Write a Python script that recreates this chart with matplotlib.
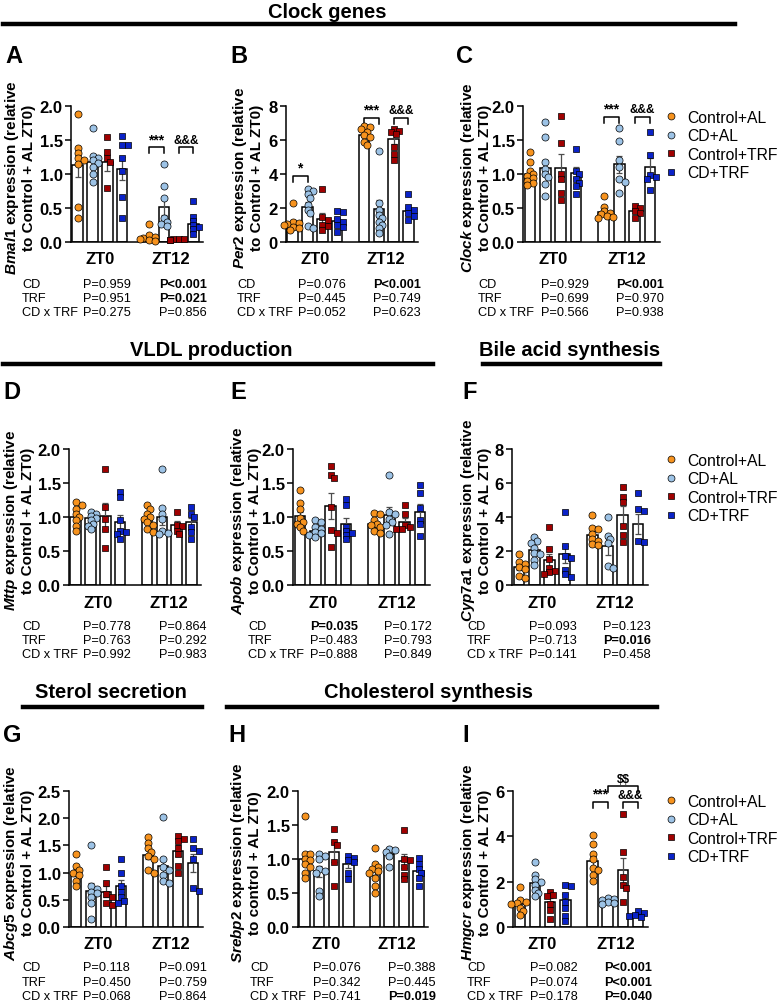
import matplotlib
matplotlib.use('Agg')
import matplotlib.pyplot as plt
from matplotlib.lines import Line2D
from matplotlib import transforms
import numpy as np

plt.rcParams['font.family'] = ['Liberation Sans', 'DejaVu Sans']
plt.rcParams['mathtext.fontset'] = 'custom'
plt.rcParams['mathtext.it'] = 'Liberation Sans:italic:bold'
plt.rcParams['mathtext.rm'] = 'Liberation Sans:bold'
plt.rcParams['mathtext.bf'] = 'Liberation Sans:bold'

GROUPS = ['Control+AL', 'CD+AL', 'Control+TRF', 'CD+TRF']
TESTS = ['CD', 'TRF', 'CD x TRF']

# order in every list: ZT0 (Control+AL, CD+AL, Control+TRF, CD+TRF), then ZT12 (same)
bmal1_pts = [[1.88, 1.38, 1.31, 1.24, 1.21, 1.14, 0.52, 0.35],
             [1.67, 1.27, 1.24, 1.20, 1.16, 1.10, 1.00, 0.88],
             [1.55, 1.33, 1.23, 1.18, 0.80],
             [1.56, 1.43, 1.43, 1.24, 1.04, 0.66, 0.35],
             [0.27, 0.10, 0.08, 0.06, 0.05, 0.03, 0.02],
             [1.15, 0.83, 0.65, 0.35, 0.30, 0.27, 0.24],
             [0.05, 0.04, 0.04, 0.03, 0.03],
             [0.61, 0.37, 0.31, 0.25, 0.22, 0.19, 0.12]]
bmal1_mean = [1.13, 1.18, 1.17, 1.08, 0.08, 0.52, 0.04, 0.27]
bmal1_sem = [0.17, 0.08, 0.12, 0.17, 0.03, 0.13, 0.01, 0.06]
bmal1_p0 = ['P=0.959', 'P=0.951', 'P=0.275']
bmal1_p12 = ['P<0.001', 'P=0.021', 'P=0.856']

per2_pts = [[2.3, 1.2, 1.12, 1.05, 0.98, 0.9, 0.8, 0.7],
            [3.1, 3.0, 2.8, 2.6, 2.2, 1.9, 1.7, 0.95, 0.85],
            [3.1, 1.45, 1.3, 1.0, 0.95, 0.7],
            [1.85, 1.75, 1.35, 1.2, 1.0, 0.9, 0.6],
            [6.85, 6.75, 6.65, 6.5, 6.3, 6.2, 5.9, 5.7],
            [5.35, 2.3, 1.9, 1.6, 1.4, 1.2, 1.0, 0.8, 0.55],
            [6.65, 6.55, 6.45, 6.35, 5.6, 5.2, 4.85],
            [2.85, 2.05, 1.9, 1.7, 1.55, 1.3]]
per2_mean = [1.1, 2.05, 1.35, 1.25, 6.3, 1.95, 6.05, 1.8]
per2_sem = [0.18, 0.28, 0.38, 0.18, 0.15, 0.5, 0.3, 0.22]
per2_p0 = ['P=0.076', 'P=0.445', 'P=0.052']
per2_p12 = ['P<0.001', 'P=0.749', 'P=0.623']

clock_pts = [[1.33, 1.17, 1.05, 1.0, 0.97, 0.94, 0.9, 0.87, 0.84],
             [1.76, 1.54, 1.18, 1.08, 1.0, 0.95, 0.85, 0.67],
             [1.86, 1.46, 1.0, 0.92, 0.72, 0.62],
             [1.37, 1.05, 1.0, 0.92, 0.87, 0.82, 0.70],
             [0.67, 0.52, 0.46, 0.43, 0.41, 0.38, 0.37, 0.36],
             [1.67, 1.49, 1.21, 1.1, 0.92, 0.88, 0.72],
             [0.53, 0.50, 0.45, 0.42, 0.35],
             [1.62, 1.28, 0.98, 0.95, 0.93, 0.76]]
clock_mean = [1.0, 1.09, 1.09, 1.02, 0.44, 1.14, 0.46, 1.1]
clock_sem = [0.05, 0.12, 0.2, 0.08, 0.04, 0.13, 0.03, 0.13]
clock_p0 = ['P=0.929', 'P=0.699', 'P=0.566']
clock_p12 = ['P<0.001', 'P=0.970', 'P=0.938']

mttp_pts = [[1.22, 1.18, 1.12, 1.05, 1.0, 0.95, 0.87, 0.80],
            [1.08, 1.05, 1.01, 0.98, 0.95, 0.90, 0.87, 0.82],
            [1.70, 1.15, 0.97, 0.83, 0.55],
            [1.37, 1.30, 0.95, 0.80, 0.78, 0.75, 0.68],
            [1.17, 1.12, 1.05, 1.0, 0.97, 0.92, 0.88, 0.82, 0.78],
            [1.71, 1.13, 1.05, 0.97, 0.80, 0.77, 0.75],
            [1.08, 0.88, 0.87, 0.80, 0.75],
            [1.14, 1.05, 1.0, 0.85, 0.78, 0.68]]
mttp_mean = [1.0, 0.98, 1.02, 0.93, 0.98, 1.0, 0.88, 0.92]
mttp_sem = [0.05, 0.03, 0.19, 0.1, 0.04, 0.12, 0.06, 0.07]
mttp_p0 = ['P=0.778', 'P=0.763', 'P=0.992']
mttp_p12 = ['P=0.864', 'P=0.292', 'P=0.983']

apob_pts = [[1.39, 1.20, 1.12, 0.98, 0.93, 0.90, 0.85, 0.80],
            [0.95, 0.92, 0.86, 0.83, 0.78, 0.76, 0.74, 0.70],
            [1.75, 1.62, 1.57, 1.14, 0.81, 0.77, 0.56],
            [1.26, 1.18, 0.86, 0.80, 0.77, 0.74, 0.67],
            [1.06, 1.05, 0.95, 0.90, 0.88, 0.85, 0.80, 0.77],
            [1.62, 1.08, 1.04, 0.97, 0.92, 0.88, 0.75],
            [1.18, 1.05, 0.88, 0.86, 0.83, 0.82],
            [1.47, 1.35, 1.13, 0.96, 0.90, 0.72]]
apob_mean = [1.01, 0.8, 1.16, 0.89, 0.9, 1.03, 0.93, 1.08]
apob_sem = [0.07, 0.03, 0.19, 0.09, 0.04, 0.11, 0.06, 0.11]
apob_p0 = ['P=0.035', 'P=0.483', 'P=0.888']
apob_p12 = ['P=0.172', 'P=0.793', 'P=0.849']

cyp7a1_pts = [[1.85, 1.35, 1.25, 1.05, 0.95, 0.55, 0.4],
              [2.8, 2.6, 2.5, 2.2, 1.9, 1.8, 1.5, 1.2],
              [3.4, 2.1, 1.55, 1.0, 0.85, 0.75, 0.65],
              [4.3, 2.3, 1.7, 1.6, 0.9, 0.65, 0.5],
              [4.1, 3.35, 3.3, 3.0, 2.7, 2.6, 2.4, 2.35],
              [4.0, 2.9, 2.7, 2.5, 1.1, 1.0],
              [5.75, 5.2, 4.9, 3.5, 2.95, 2.55],
              [5.4, 4.45, 4.35, 2.6, 2.55]]
cyp7a1_mean = [1.08, 2.05, 1.47, 1.8, 2.95, 2.27, 4.12, 3.6]
cyp7a1_sem = [0.18, 0.2, 0.37, 0.48, 0.22, 0.5, 0.55, 0.6]
cyp7a1_p0 = ['P=0.093', 'P=0.713', 'P=0.141']
cyp7a1_p12 = ['P=0.123', 'P=0.016', 'P=0.458']

abcg5_pts = [[1.35, 1.12, 1.05, 1.0, 0.95, 0.85, 0.75],
             [1.50, 0.75, 0.70, 0.65, 0.62, 0.55, 0.45, 0.15],
             [1.10, 0.80, 0.60, 0.55, 0.45, 0.40],
             [1.25, 1.0, 0.75, 0.65, 0.55, 0.48, 0.45],
             [1.65, 1.55, 1.45, 1.38, 1.30, 1.25, 1.05, 1.0],
             [2.02, 1.25, 1.10, 1.05, 0.95, 0.85, 0.80],
             [1.67, 1.62, 1.58, 1.45, 1.35, 1.13, 1.00],
             [1.62, 1.45, 1.40, 1.25, 0.72, 0.67]]
abcg5_mean = [1.0, 0.67, 0.65, 0.76, 1.33, 1.12, 1.4, 1.18]
abcg5_sem = [0.07, 0.13, 0.1, 0.11, 0.08, 0.15, 0.1, 0.17]
abcg5_p0 = ['P=0.118', 'P=0.450', 'P=0.068']
abcg5_p12 = ['P=0.091', 'P=0.759', 'P=0.864']

srebp2_pts = [[1.63, 1.08, 1.07, 1.0, 0.98, 0.92, 0.88, 0.80, 0.72],
              [1.08, 1.05, 1.0, 0.85, 0.82, 0.80, 0.53, 0.45],
              [1.44, 1.25, 1.20, 0.96, 0.60],
              [1.05, 1.02, 0.98, 0.95, 0.80, 0.70],
              [1.16, 0.93, 0.88, 0.85, 0.82, 0.80, 0.72, 0.60, 0.50],
              [1.15, 1.13, 1.10, 1.05, 0.88],
              [1.43, 1.0, 0.98, 0.88, 0.76, 0.70],
              [1.02, 0.92, 0.85, 0.80, 0.72, 0.60]]
srebp2_mean = [1.0, 0.82, 1.1, 0.92, 0.82, 1.07, 0.97, 0.82]
srebp2_sem = [0.09, 0.08, 0.15, 0.05, 0.06, 0.05, 0.1, 0.06]
srebp2_p0 = ['P=0.076', 'P=0.342', 'P=0.741']
srebp2_p12 = ['P=0.388', 'P=0.445', 'P=0.019']

hmgcr_pts = [[1.75, 1.2, 1.12, 1.05, 1.0, 0.85, 0.7, 0.55],
             [2.88, 2.3, 2.1, 2.0, 1.85, 1.65, 1.5, 1.35],
             [1.55, 1.4, 1.35, 1.0, 0.75, 0.35],
             [1.85, 1.8, 1.4, 1.1, 0.85, 0.5, 0.25],
             [4.05, 3.65, 3.2, 3.0, 2.6, 2.5, 2.3, 2.05],
             [1.3, 1.25, 1.2, 1.12, 1.05, 1.0],
             [5.0, 3.3, 2.2, 1.85, 1.7, 1.1],
             [0.7, 0.62, 0.55, 0.5, 0.45]]
hmgcr_mean = [1.02, 1.95, 1.1, 1.2, 2.9, 1.17, 2.5, 0.56]
hmgcr_sem = [0.13, 0.18, 0.2, 0.25, 0.24, 0.05, 0.55, 0.05]
hmgcr_p0 = ['P=0.082', 'P=0.074', 'P=0.178']
hmgcr_p12 = ['P<0.001', 'P<0.001', 'P=0.040']

# significance brackets: (bar i, bar j, label, height)
bmal1_sig = [(4, 5, '***', 1.39), (6, 7, '&&&', 1.39)]
per2_sig = [(0, 1, '*', 3.9), (4, 5, '***', 7.3), (6, 7, '&&&', 7.3)]
clock_sig = [(4, 5, '***', 1.84), (6, 7, '&&&', 1.84)]
hmgcr_sig = [(4, 5, '***', 5.5), (6, 7, '&&&', 5.5), (5, 7, r'\$\$', 6.2)]

W, H = 778, 1004
COLORS = ['#F7931E', '#9DC3E6', '#A00000', '#0A22C8']
MARKERS = ['o', 'o', 's', 's']
XPOS = [0, 1, 2, 3, 4.8, 5.8, 6.8, 7.8]
XLIM = (-0.45, 8.45)

fig = plt.figure(figsize=(W / 100, H / 100), dpi=100)


def fx(x):
    return x / W


def fy(y):
    return 1 - y / H


def swarm(vals, xpx, ypx, diam=6.5):
    # simple beeswarm: shift points sideways when they overlap
    placed, offs = [], []
    for v in vals:
        y = v * ypx
        for k in [0, 1, -1, 2, -2, 3, -3]:
            x = k * diam * 0.45
            if all((x - px) ** 2 + (y - py) ** 2 >= (diam * 0.62) ** 2 for px, py in placed):
                break
        placed.append((x, y))
        offs.append(x / xpx)
    return np.array(offs)


def draw_panel(box, lab_x, pts, means, sems, ymax, ystep, fmt, gene, ctrl='Control', sig=()):
    l, r, t, b = box
    ax = fig.add_axes([fx(l), fy(b), (r - l) / W, (b - t) / H])
    ax.set_xlim(*XLIM)
    ax.set_ylim(0, ymax)
    xpx = (r - l) / (XLIM[1] - XLIM[0])
    ypx = (b - t) / ymax
    for i, x in enumerate(XPOS):
        g = i % 4
        ax.bar(x, means[i], width=0.7, color='white', edgecolor='black', linewidth=1.1, zorder=1)
        ax.errorbar(x, means[i], yerr=sems[i], color='0.3', lw=0.9, capsize=2, capthick=0.9, zorder=2)
        offs = swarm(pts[i], xpx, ypx)
        ax.scatter(x + offs, pts[i], s=26 if g < 2 else 22, marker=MARKERS[g], c=COLORS[g],
                   edgecolors='black', linewidths=0.5, zorder=3, clip_on=False)
    ticks = np.arange(0, ymax + ystep / 2, ystep)
    ax.set_yticks(ticks)
    ax.set_yticklabels([fmt % v for v in ticks], fontweight='bold', fontsize=12)
    ax.set_xticks([])
    ax.tick_params(axis='y', direction='out', length=4, width=1.1, pad=2)
    for s in ['top', 'right']:
        ax.spines[s].set_visible(False)
    for s in ['left', 'bottom']:
        ax.spines[s].set_linewidth(1.1)
    ax.set_ylabel('$\\mathit{%s}$ expression (relative\nto %s + AL ZT0)' % (gene, ctrl),
                  fontsize=11, fontweight='bold', linespacing=1.1)
    # right edge of the rotated label block, in pixels
    ax.yaxis.set_label_coords((lab_x - l) / (r - l), 0.48)
    trans = transforms.blended_transform_factory(ax.transData, ax.transAxes)
    off = -17 / (b - t)
    ax.text(np.mean(XPOS[:4]), off, 'ZT0', transform=trans, ha='center', va='center',
            fontsize=12, fontweight='bold')
    ax.text(np.mean(XPOS[4:]), off, 'ZT12', transform=trans, ha='center', va='center',
            fontsize=12, fontweight='bold')
    drop = 6 / ypx
    for i, j, txt, h in sig:
        ax.plot([XPOS[i], XPOS[i], XPOS[j], XPOS[j]], [h - drop, h, h, h - drop],
                color='black', lw=1.1, clip_on=False)
        ax.text((XPOS[i] + XPOS[j]) / 2, h + 1.5 / ypx, txt, ha='center', va='bottom',
                fontsize=10 if '*' in txt else 8.5, fontweight='bold', clip_on=False)
    return ax


def is_sig(p):
    return p.startswith('P<') or float(p[2:]) < 0.05


def p_block(cols, rows, p0, p12):
    for k, lab in enumerate(TESTS):
        y = fy(rows[k])
        fig.text(fx(cols[0]), y, lab, fontsize=9.2, va='center')
        fig.text(fx(cols[1]), y, p0[k], fontsize=9.2, va='center',
                 fontweight='bold' if is_sig(p0[k]) else 'normal')
        fig.text(fx(cols[2]), y, p12[k], fontsize=9.2, va='center',
                 fontweight='bold' if is_sig(p12[k]) else 'normal')


def section(text, tx, ty, x1, x2, ly, ha='center'):
    fig.text(fx(tx), fy(ty), text, ha=ha, va='center', fontsize=14.5, fontweight='bold')
    fig.add_artist(Line2D([fx(x1), fx(x2)], [fy(ly), fy(ly)], color='black', lw=3.2,
                          transform=fig.transFigure))


def legend(yc):
    handles = [Line2D([], [], marker=MARKERS[g], color=COLORS[g], linestyle='none', markersize=5,
                      markeredgecolor='black', markeredgewidth=0.5) for g in range(4)]
    fig.legend(handles, GROUPS, loc='center left', bbox_to_anchor=(fx(667), fy(yc)),
               frameon=False, fontsize=11.3, handlelength=0.5, handletextpad=0.8,
               labelspacing=0.22, borderpad=0, borderaxespad=0)


def letter(s, x, y):
    fig.text(fx(x), fy(y), s, fontsize=17, fontweight='bold', ha='left', va='center')


# row 1: clock genes
section('Clock genes', 268, 12, 3, 735, 25, ha='left')
letter('A', 5, 57)
letter('B', 230, 57)
letter('C', 456, 57)
draw_panel((71, 203, 107, 243), 36, bmal1_pts, bmal1_mean, bmal1_sem, 2.0, 0.5, '%.1f', 'Bmal1', sig=bmal1_sig)
draw_panel((286, 418, 107, 243), 264, per2_pts, per2_mean, per2_sem, 8, 2, '%d', 'Per2', sig=per2_sig)
draw_panel((523, 660, 107, 243), 492, clock_pts, clock_mean, clock_sem, 2.0, 0.5, '%.1f', 'Clock', sig=clock_sig)
p_block((22, 83, 159), (285, 299, 313), bmal1_p0, bmal1_p12)
p_block((237, 298, 373), (285, 299, 313), per2_p0, per2_p12)
p_block((478, 541, 616), (285, 299, 313), clock_p0, clock_p12)
legend(146)

# row 2: VLDL production / bile acid synthesis
section('VLDL production', 211, 350, 3, 433, 365)
section('Bile acid synthesis', 570, 350, 483, 660, 365)
letter('D', 3, 393)
letter('E', 230, 393)
letter('F', 462, 393)
draw_panel((69, 201, 450, 586), 35, mttp_pts, mttp_mean, mttp_sem, 2.0, 0.5, '%.1f', 'Mttp')
draw_panel((293, 430, 450, 586), 262, apob_pts, apob_mean, apob_sem, 2.0, 0.5, '%.1f', 'Apob')
draw_panel((512, 648, 450, 586), 492, cyp7a1_pts, cyp7a1_mean, cyp7a1_sem, 8, 2, '%d', 'Cyp7a1')
p_block((22, 83, 159), (627, 641, 655), mttp_p0, mttp_p12)
p_block((248, 310, 384), (627, 641, 655), apob_p0, apob_p12)
p_block((467, 529, 603), (627, 641, 655), cyp7a1_p0, cyp7a1_p12)
legend(489)

# row 3: sterol secretion / cholesterol synthesis
section('Sterol secretion', 111, 693, 23, 202, 708)
section('Cholesterol synthesis', 429, 693, 227, 657, 708)
letter('G', 3, 735)
letter('H', 228, 735)
letter('I', 462, 735)
draw_panel((69, 203, 792, 928), 35, abcg5_pts, abcg5_mean, abcg5_sem, 2.5, 0.5, '%.1f', 'Abcg5')
draw_panel((298, 428, 792, 928), 262, srebp2_pts, srebp2_mean, srebp2_sem, 2.0, 0.5, '%.1f', 'Srebp2', ctrl='control')
draw_panel((513, 648, 792, 928), 492, hmgcr_pts, hmgcr_mean, hmgcr_sem, 6, 2, '%d', 'Hmgcr', sig=hmgcr_sig)
p_block((22, 83, 159), (968, 983, 997), abcg5_p0, abcg5_p12)
p_block((250, 313, 388), (968, 983, 997), srebp2_p0, srebp2_p12)
p_block((467, 530, 604), (968, 983, 997), hmgcr_p0, hmgcr_p12)
legend(830)

fig.savefig('out.png', dpi=100)
